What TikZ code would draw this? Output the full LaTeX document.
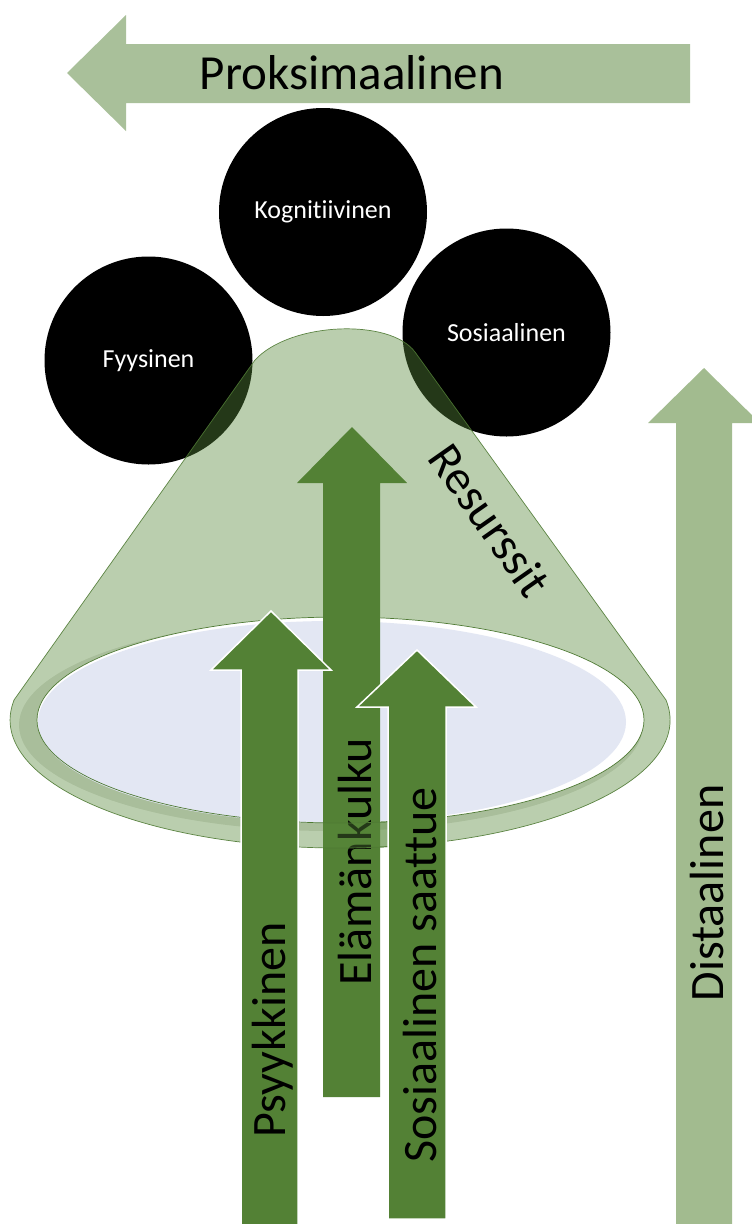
\documentclass[tikz,border=0pt]{standalone}
\usepackage{fontspec}
\setmainfont{Carlito}[Ligatures=NoCommon]
\definecolor{lightsage}{HTML}{A9C09A}
\definecolor{distsage}{HTML}{A2BB8F}
\definecolor{darkgreen}{HTML}{538135}
\definecolor{conefill}{RGB}{88,137,59}
\definecolor{coneline}{HTML}{4F7A34}
\definecolor{innerblue}{HTML}{E3E7F3}
\definecolor{shadowgreen}{HTML}{A9BE9B}
\tikzset{
  circlebox/.style={circle, fill=black, minimum size=208pt, inner sep=0pt, text=white, font=\fontsize{26}{28}\selectfont},
  bigarrow/.style={fill=darkgreen},
  outlinedarrow/.style={fill=darkgreen, draw=white, line width=1.5pt},
  bigtext/.style={font=\fontsize{48}{52}\selectfont, text=black, inner sep=0pt},
  conestyle/.style={fill=conefill, fill opacity=0.41, draw=coneline, draw opacity=0.9, line width=0.7pt}
}
\begin{document}
\begin{tikzpicture}[x=1pt,y=-1pt]
\useasboundingbox (0,0) rectangle (752,1224);
\clip (0,0) rectangle (752,1224);
% Proksimaalinen arrow
\path[fill=lightsage] (67,73) -- (126,15) -- (126,44) -- (690,44) -- (690,103) -- (126,103) -- (126,131) -- cycle;
\node[bigtext, font=\fontsize{49}{52}\selectfont] (prox) at (352,73) {Proksimaalinen};
% circles
\node[circlebox] (kog) at (323,212) {Kognitiivinen};
\node[circlebox] (fyy) at (148.5,360.5) {Fyysinen};
\node[circlebox] (sos) at (506.5,332.5) {Sosiaalinen};
% cone
\path[conestyle] (14,700) -- (255,360) .. controls (290,322) and (390,318) .. (415,352) -- (666,700)
   arc[start angle=-9, end angle=189, x radius=330, y radius=128] -- cycle;
% shadow band
\begin{scope}
\clip (14,700) -- (255,360) .. controls (290,322) and (390,318) .. (415,352) -- (666,700)
   arc[start angle=-9, end angle=189, x radius=330, y radius=128] -- cycle;
\fill[shadowgreen] (331,725) ellipse [x radius=312, y radius=106];
\end{scope}
% inner ellipse
\fill[white] (340.5,720) ellipse [x radius=303.5, y radius=103];
\fill[innerblue] (332,722) ellipse [x radius=294, y radius=101];
\draw[coneline, line width=0.7pt] (340.5,720) ellipse [x radius=303.5, y radius=103];
\node[bigtext, rotate=-55] (res) at (490,520) {Resurssit};
% Elämänkulku arrow
\path[bigarrow] (352,427) -- (407,483) -- (380,483) -- (380,1097) -- (323,1097) -- (323,483) -- (297,483) -- cycle;
\node[bigtext, rotate=90] (ela) at (355,862) {Elämänkulku};
% front rim over Elämänkulku
\begin{scope}
\clip (323,790) rectangle (388,870);
\path[fill=conefill, fill opacity=0.41, even odd rule] (340,720) ellipse [x radius=330, y radius=128] (340.5,720) ellipse [x radius=303.5, y radius=103];
\draw[coneline, line width=0.7pt] (340,720) ellipse [x radius=330, y radius=128];
\draw[coneline, line width=0.7pt] (340.5,720) ellipse [x radius=303.5, y radius=103];
\end{scope}
% Psyykkinen arrow
\path[outlinedarrow] (271,611) -- (331,670) -- (298,670) -- (298,1240) -- (241,1240) -- (241,670) -- (211,670) -- cycle;
\node[bigtext, rotate=90] (psy) at (273,1030) {Psyykkinen};
% Sosiaalinen saattue arrow
\path[outlinedarrow] (417,650) -- (476,707) -- (446,707) -- (446,1219) -- (388,1219) -- (388,707) -- (357,707) -- cycle;
\node[bigtext, rotate=90] (ss) at (420,975) {Sosiaalinen saattue};
% Distaalinen arrow
\path[fill=distsage] (704,368) -- (760,423) -- (732,423) -- (732,1240) -- (676,1240) -- (676,423) -- (648,423) -- cycle;
\node[bigtext, rotate=90] (dist) at (707,893) {Distaalinen};
\end{tikzpicture}
\end{document}
